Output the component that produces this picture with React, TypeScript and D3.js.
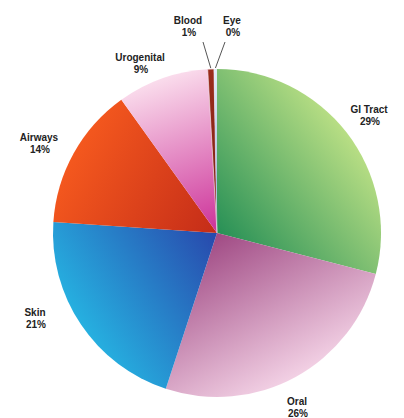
import React from "react";
import * as d3 from "d3";

const categories = ["GI Tract", "Oral", "Skin", "Airways", "Urogenital", "Blood", "Eye"];
const shares = [29, 26, 21, 14, 9, 0.6, 0.3];

const innerColors = ["#279056", "#a04a84", "#2848ac", "#c42c18", "#cc3098", "#7a2012", "#8ea8d8"];
const outerColors = ["#b8de84", "#f2d0e4", "#26b0e0", "#f4581e", "#fadcec", "#9a2c1c", "#e4ecf8"];

// label placement relative to the pie centre (layout only)
const labelPos: Record<string, [number, number]> = {
  "GI Tract": [152, -124],
  Oral: [80, 168],
  Skin: [-182, 79],
  Airways: [-178, -96],
  Urogenital: [-77, -176],
  Blood: [-29, -213],
  Eye: [15, -213],
};

export default function App() {
  const W = 404;
  const H = 418;
  const cx = 217;
  const cy = 233;
  const R = 164;

  const data = categories.map((c, i) => ({ name: c, value: shares[i], i }));
  const pie = d3
    .pie<any>()
    .sort(null)
    .value((d) => d.value)
    .startAngle(0)
    .endAngle(2 * Math.PI);
  const arcs = pie(data);
  const arc = d3.arc<any>().innerRadius(0).outerRadius(R);

  return (
    <svg
      width={W}
      height={H}
      style={{ position: "absolute", left: 0, top: 0, background: "#fff" }}
    >
      <defs>
        {arcs.map((a) => {
          const mid = (a.startAngle + a.endAngle) / 2;
          const x2 = Math.sin(mid) * R;
          const y2 = -Math.cos(mid) * R;
          return (
            <linearGradient
              key={a.data.name}
              id={`g${a.data.i}`}
              gradientUnits="userSpaceOnUse"
              x1={0}
              y1={0}
              x2={x2}
              y2={y2}
            >
              <stop offset="0%" stopColor={innerColors[a.data.i]} />
              <stop offset="100%" stopColor={outerColors[a.data.i]} />
            </linearGradient>
          );
        })}
      </defs>
      <g transform={`translate(${cx},${cy})`}>
        {arcs.map((a) => (
          <path
            key={a.data.name}
            d={arc(a) as string}
            fill={`url(#g${a.data.i})`}
            stroke={a.data.i === 5 ? "#f4e4ec" : "none"}
            strokeWidth={a.data.i === 5 ? 0.6 : 0}
          />
        ))}
        {arcs
          .filter((a) => a.data.name === "Blood" || a.data.name === "Eye")
          .map((a) => {
            const [lx, ly] = labelPos[a.data.name];
            const mid = (a.startAngle + a.endAngle) / 2;
            const ex = Math.sin(mid) * (R + 1);
            const ey = -Math.cos(mid) * (R + 1);
            return (
              <line
                key={"l" + a.data.name}
                x1={lx + (a.data.name === "Blood" ? 15 : -7)}
                y1={ly + 22}
                x2={ex}
                y2={ey}
                stroke="#555"
                strokeWidth={1}
              />
            );
          })}
        {arcs.map((a) => {
          const [lx, ly] = labelPos[a.data.name];
          const pct = Math.round(a.data.value);
          return (
            <g
              key={"t" + a.data.name}
              fontFamily="Liberation Sans, Arial, sans-serif"
              fontWeight="bold"
              fontSize={10}
              fill="#222"
              textAnchor="middle"
            >
              <text x={lx} y={ly} dy="0.35em">
                {a.data.name}
              </text>
              <text x={lx + 1} y={ly + 12.5} dy="0.35em">
                {pct}%
              </text>
            </g>
          );
        })}
      </g>
    </svg>
  );
}
